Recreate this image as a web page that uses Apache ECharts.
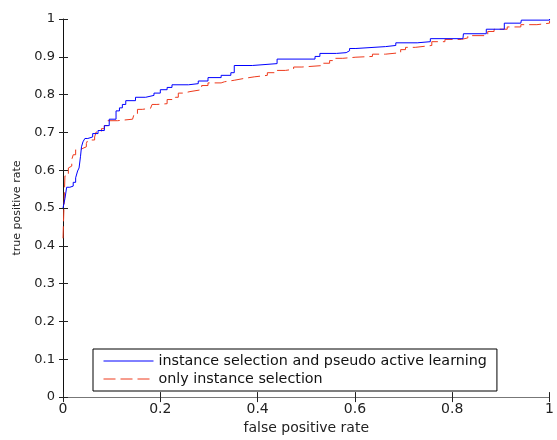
<!DOCTYPE html>
<html>
<head>
<meta charset="utf-8">
<script src="https://cdn.jsdelivr.net/npm/echarts@6/dist/echarts.min.js"></script>
<style>
html,body{margin:0;padding:0;background:#fff;}
#c{width:557px;height:440px;}
</style>
</head>
<body>
<div id="c"></div>
<script>
var xTicks = [0, 0.2, 0.4, 0.6, 0.8, 1];
var yTicks = [0, 0.1, 0.2, 0.3, 0.4, 0.5, 0.6, 0.7, 0.8, 0.9, 1];
var seriesNames = ['instance selection and pseudo active learning', 'only instance selection'];
var xAxisName = 'false positive rate';
var yAxisName = 'true positive rate';

var blueROC = [[0,0.50],[0.004,0.525],[0.0075,0.555],[0.014,0.558],[0.021,0.568],[0.026,0.58],[0.030,0.598],[0.033,0.606],[0.036,0.637],[0.038,0.662],[0.041,0.675],[0.045,0.684],[0.051,0.688],[0.061,0.697],[0.072,0.705],[0.085,0.718],[0.095,0.735],[0.109,0.757],[0.116,0.765],[0.122,0.774],[0.129,0.784],[0.149,0.793],[0.170,0.798],[0.187,0.804],[0.200,0.813],[0.214,0.819],[0.224,0.826],[0.258,0.829],[0.278,0.836],[0.298,0.845],[0.325,0.851],[0.345,0.858],[0.352,0.877],[0.389,0.882],[0.440,0.894],[0.518,0.901],[0.528,0.909],[0.562,0.911],[0.582,0.916],[0.589,0.922],[0.602,0.927],[0.663,0.930],[0.684,0.937],[0.728,0.940],[0.755,0.948],[0.822,0.951],[0.823,0.961],[0.870,0.973],[0.907,0.989],[0.941,0.992],[0.942,0.997],[1,1]];

var redROC = [[0,0.42],[0.004,0.585],[0.011,0.606],[0.014,0.611],[0.018,0.628],[0.021,0.641],[0.026,0.654],[0.035,0.658],[0.041,0.662],[0.048,0.671],[0.051,0.680],[0.065,0.688],[0.068,0.701],[0.079,0.710],[0.085,0.718],[0.092,0.731],[0.112,0.735],[0.143,0.740],[0.146,0.748],[0.153,0.761],[0.163,0.764],[0.180,0.767],[0.183,0.774],[0.193,0.776],[0.214,0.787],[0.231,0.793],[0.237,0.804],[0.247,0.808],[0.261,0.813],[0.285,0.824],[0.298,0.831],[0.325,0.834],[0.332,0.838],[0.352,0.843],[0.373,0.847],[0.393,0.851],[0.420,0.858],[0.440,0.864],[0.457,0.867],[0.474,0.873],[0.491,0.877],[0.535,0.883],[0.548,0.890],[0.559,0.896],[0.575,0.899],[0.602,0.901],[0.636,0.907],[0.663,0.911],[0.694,0.919],[0.704,0.925],[0.724,0.930],[0.758,0.940],[0.785,0.946],[0.819,0.950],[0.832,0.956],[0.873,0.967],[0.886,0.973],[0.913,0.979],[0.941,0.985],[0.974,0.989],[1,0.995]];

var FONT = 'DejaVu Sans';
function fmt(v){ return String(+(+v).toFixed(1)); }

var chart = echarts.init(document.getElementById('c'), null, {renderer:'canvas'});
chart.setOption({
  backgroundColor: '#fff',
  animation: false,
  textStyle: {fontFamily: FONT},
  grid: {left: 63, right: 0, top: 19, bottom: 33, containLabel: false},
  legend: {
    orient: 'vertical',
    left: 93, top: 349,
    data: seriesNames,
    itemWidth: 50, itemHeight: 14, itemGap: 4,
    padding: [5, 10, 5, 10],
    borderColor: '#000', borderWidth: 1,
    backgroundColor: '#fff',
    itemStyle: {opacity: 0, borderWidth: 0},
    lineStyle: {width: 1},
    textStyle: {fontFamily: FONT, fontSize: 14.3, color: '#111', lineHeight: 14},
    selectedMode: false
  },
  xAxis: [{
    type: 'value', min: 0, max: 1, interval: 0.2, position: 'bottom',
    name: xAxisName, nameLocation: 'middle', nameGap: 20,
    nameTextStyle: {fontFamily: FONT, fontSize: 14, color: '#222'},
    axisLine: {show: true, lineStyle: {color: '#666', width: 1}},
    axisTick: {show: true, inside: true, length: 5, lineStyle: {color: '#222'}},
    axisLabel: {show: true, margin: 5, fontSize: 14, color: '#222', fontFamily: FONT, formatter: fmt},
    splitLine: {show: false}
  }, {
    type: 'value', min: 0, max: 1, interval: 0.2, position: 'top',
    axisLine: {show: true, lineStyle: {color: '#777', width: 1}},
    axisTick: {show: true, inside: true, length: 5, lineStyle: {color: '#222'}},
    axisLabel: {show: false},
    splitLine: {show: false}
  }],
  yAxis: [{
    type: 'value', min: 0, max: 1, interval: 0.1, position: 'left',
    name: yAxisName, nameLocation: 'middle', nameGap: 40, nameRotate: 90,
    nameTextStyle: {fontFamily: FONT, fontSize: 11, color: '#222'},
    axisLine: {show: true, lineStyle: {color: '#111', width: 1}},
    axisTick: {show: true, inside: true, length: 5, lineStyle: {color: '#222'}},
    axisLabel: {show: true, margin: 8, fontSize: 13, color: '#222', fontFamily: FONT, formatter: fmt},
    splitLine: {show: false}
  }, {
    type: 'value', min: 0, max: 1, interval: 0.1, position: 'right', offset: -1,
    axisLine: {show: false},
    axisTick: {show: true, inside: true, length: 5, lineStyle: {color: '#222'}},
    axisLabel: {show: false},
    splitLine: {show: false}
  }],
  series: [{
    name: seriesNames[0], type: 'line', step: 'end', data: blueROC,
    xAxisIndex: 0, yAxisIndex: 0,
    symbol: 'none', showSymbol: false,
    lineStyle: {color: '#0000ff', width: 1},
    itemStyle: {color: '#0000ff'},
    z: 3
  }, {
    name: seriesNames[1], type: 'line', step: 'end', data: redROC,
    xAxisIndex: 0, yAxisIndex: 0,
    symbol: 'none', showSymbol: false,
    lineStyle: {color: '#ee3a1c', width: 1, type: [12, 5]},
    itemStyle: {color: '#ee3a1c'},
    z: 2
  }]
});
</script>
</body>
</html>
